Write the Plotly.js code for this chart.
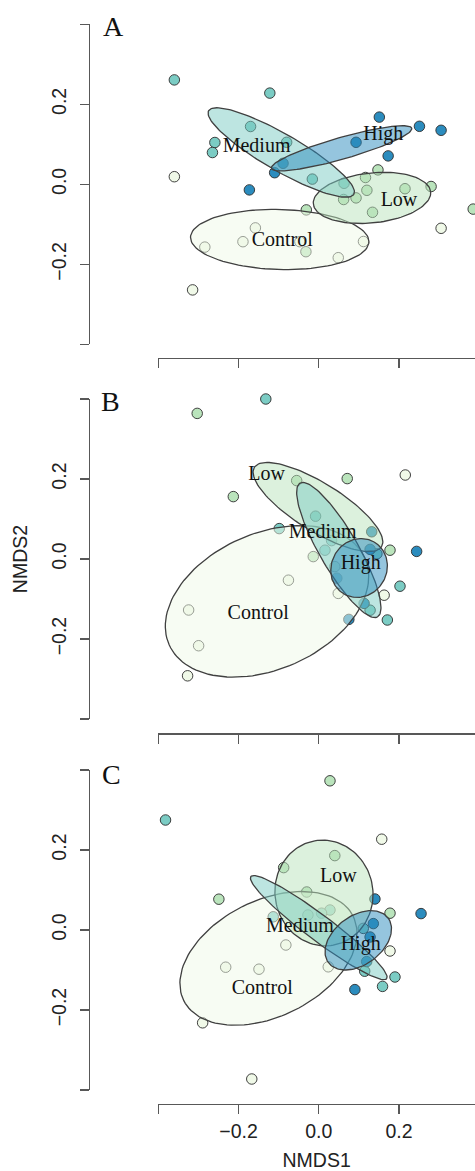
<!DOCTYPE html>
<html><head><meta charset="utf-8">
<script src="https://cdn.plot.ly/plotly-3.0.1.min.js"></script>
<style>html,body{margin:0;padding:0;background:#fff}#chart{width:475px;height:1171px}</style>
</head><body><div id="chart"></div>
<script>
// ---------- data ----------
const groups = ['Control', 'Low', 'Medium', 'High'];
const groupColors = ['#F0F9E8', '#BAE4BC', '#7BCCC4', '#2B8CBE'];
const panelLetters = ['A', 'B', 'C'];
const tickValues = [-0.4, -0.2, 0, 0.2, 0.4];
const tickLabels = ['', '\u22120.2', '0.0', '0.2', ''];

// Panel A points
const aControlX = [-0.360, -0.3145, -0.284, -0.158, -0.189, -0.047, 0.0486, 0.1115, 0.305];
const aControlY = [0.019, -0.264, -0.157, -0.109, -0.1435, -0.1435, -0.1835, -0.143, -0.110];
const aLowX = [0.1476, 0.1165, 0.120, 0.215, 0.280, 0.062, 0.093, 0.134, 0.385, -0.031, -0.032];
const aLowY = [0.036, 0.017, -0.015, -0.011, -0.0055, -0.038, -0.034, -0.070, -0.062, -0.064, -0.1685];
const aMediumX = [-0.360, -0.122, -0.170, -0.259, -0.265, -0.080, 0.063, -0.016];
const aMediumY = [0.261, 0.228, 0.1445, 0.1045, 0.0795, 0.105, 0.0025, 0.013];
const aHighX = [0.151, 0.251, 0.305, 0.093, 0.173, -0.089, -0.110, -0.173];
const aHighY = [0.168, 0.145, 0.135, 0.105, 0.071, 0.0525, 0.029, -0.014];

// Panel B points
const bControlX = [-0.4726, 0.2157, -0.0756, 0.163, -0.3244, -0.2995, -0.327, -0.1923, 0.0486];
const bControlY = [0.089, 0.21, -0.053, -0.0905, -0.1275, -0.2168, -0.292, -0.417, -0.086];
const bLowX = [-0.303, -0.213, 0.071, -0.055, 0.1776, -0.0137, 0.040];
const bLowY = [0.364, 0.156, 0.201, 0.196, 0.022, 0.006, -0.019];
const bMediumX = [-0.132, -0.008, -0.0985, 0.2025, 0.128, 0.171, 0.145, 0.032, 0.0155];
const bMediumY = [0.40, 0.107, 0.076, -0.068, -0.128, -0.1525, 0.013, 0.046, 0.022];
const bHighX = [0.132, 0.244, 0.128, 0.113, 0.075, 0.045];
const bHighY = [0.068, 0.019, 0.024, -0.111, -0.151, -0.048];

// Panel C points
const cControlX = [0.157, -0.531, -0.082, 0.1776, -0.232, -0.149, -0.2895, -0.167, 0.0237];
const cControlY = [0.227, 0.0275, -0.0375, -0.0525, -0.093, -0.098, -0.232, -0.3725, -0.092];
const cLowX = [0.028, 0.040, -0.0875, -0.249, 0.1776, -0.030, -0.027];
const cLowY = [0.373, 0.186, 0.156, 0.077, 0.042, 0.095, 0.0375];
const cMediumX = [-0.382, 0.1145, 0.190, 0.159, -0.1135, 0.028, 0.007, 0.111];
const cMediumY = [0.275, -0.103, -0.1175, -0.141, 0.033, 0.05, 0.042, 0.004];
const cHighX = [0.140, 0.255, 0.136, 0.128, 0.090, 0.1195];
const cHighY = [0.0775, 0.041, 0.016, -0.0175, -0.149, -0.079];

// Ellipses (order: Control, Low, Medium, High): centre, semi-axes, rotation (deg)
const aEllCX = [-0.0973, 0.1327, -0.0935, 0.057];
const aEllCY = [-0.138, -0.034, 0.0795, 0.090];
const aEllA = [0.2225, 0.147, 0.209, 0.182];
const aEllB = [0.075, 0.0625, 0.046, 0.027];
const aEllAng = [-1.5, 6, -30, 16];

const bEllCX = [-0.129, -0.002, 0.050, 0.1005];
const bEllCY = [-0.106, 0.13, 0.0225, -0.0225];
const bEllA = [0.267, 0.187, 0.193, 0.075];
const bEllB = [0.170, 0.06, 0.048, 0.069];
const bEllAng = [24, -32, -60, 60];

const cEllCX = [-0.1254, 0.013, 0.0, 0.0985];
const cEllCY = [-0.071, 0.0925, 0.006, -0.0258];
const cEllA = [0.236, 0.1325, 0.212, 0.093];
const cEllB = [0.145, 0.122, 0.032, 0.061];
const cEllAng = [26.6, 100, -37, 37];

// Group label positions (order: Control, Low, Medium, High)
const aLabelX = [-0.091, 0.2, -0.155, 0.161];
const aLabelY = [-0.141, -0.042, 0.094, 0.123];
const bLabelX = [-0.151, -0.13, 0.0097, 0.1045];
const bLabelY = [-0.1375, 0.21, 0.064, -0.0125];
const cLabelX = [-0.141, 0.0486, -0.047, 0.1045];
const cLabelY = [-0.148, 0.132, 0.008, -0.0375];

// ---------- assembly ----------
const panels = [
  {pts: [[aControlX, aControlY], [aLowX, aLowY], [aMediumX, aMediumY], [aHighX, aHighY]],
   ell: [aEllCX, aEllCY, aEllA, aEllB, aEllAng], lab: [aLabelX, aLabelY]},
  {pts: [[bControlX, bControlY], [bLowX, bLowY], [bMediumX, bMediumY], [bHighX, bHighY]],
   ell: [bEllCX, bEllCY, bEllA, bEllB, bEllAng], lab: [bLabelX, bLabelY]},
  {pts: [[cControlX, cControlY], [cLowX, cLowY], [cMediumX, cMediumY], [cHighX, cHighY]],
   ell: [cEllCX, cEllCY, cEllA, cEllB, cEllAng], lab: [cLabelX, cLabelY]}
];

function hexToRgba(hex, a) {
  const n = parseInt(hex.slice(1), 16);
  return 'rgba(' + ((n >> 16) & 255) + ',' + ((n >> 8) & 255) + ',' + (n & 255) + ',' + a + ')';
}

function ellipseOutline(cx, cy, a, b, angDeg) {
  const t = angDeg * Math.PI / 180, xs = [], ys = [];
  for (let i = 0; i <= 120; i++) {
    const u = 2 * Math.PI * i / 120;
    const ex = a * Math.cos(u), ey = b * Math.sin(u);
    xs.push(cx + ex * Math.cos(t) - ey * Math.sin(t));
    ys.push(cy + ex * Math.sin(t) + ey * Math.cos(t));
  }
  return [xs, ys];
}

const serif = 'Liberation Serif, Times New Roman, serif';
const sans = 'Liberation Sans, Arial, Helvetica, sans-serif';
const lineCol = '#585858';
const textCol = '#222222';

const traces = [];
panels.forEach((p, k) => {
  const xa = k === 0 ? 'x' : 'x' + (k + 1);
  const ya = k === 0 ? 'y' : 'y' + (k + 1);
  // points (under the ellipses)
  p.pts.forEach((xy, g) => {
    traces.push({
      type: 'scatter', mode: 'markers', x: xy[0], y: xy[1], xaxis: xa, yaxis: ya,
      name: groups[g], showlegend: false, cliponaxis: false, hoverinfo: 'skip',
      marker: {size: 10.5, color: groupColors[g], line: {color: 'rgba(45,45,45,0.9)', width: 1}}
    });
  });
  // ellipses
  groups.forEach((gname, g) => {
    const o = ellipseOutline(p.ell[0][g], p.ell[1][g], p.ell[2][g], p.ell[3][g], p.ell[4][g]);
    traces.push({
      type: 'scatter', mode: 'lines', x: o[0], y: o[1], xaxis: xa, yaxis: ya,
      fill: 'toself', fillcolor: hexToRgba(groupColors[g], 0.5),
      line: {color: '#404040', width: 1.3}, showlegend: false, hoverinfo: 'skip'
    });
  });
  // group labels
  traces.push({
    type: 'scatter', mode: 'text', x: p.lab[0], y: p.lab[1], text: groups,
    xaxis: xa, yaxis: ya, textposition: 'middle center', cliponaxis: false,
    textfont: {family: serif, size: 20, color: '#111111'}, showlegend: false, hoverinfo: 'skip'
  });
});

const xDomain = [158.3 / 475, 1];
const xRange = [-0.4, 0.3895];
const yDomains = [[1 - 344.3 / 1171, 1 - 24.3 / 1171], [1 - 719 / 1171, 1 - 399 / 1171], [1 - 1090 / 1171, 1 - 770 / 1171]];
const xPositions = [1 - 358 / 1171, 1 - 733.3 / 1171, 1 - 1104 / 1171];
const yPosition = 88.5 / 475;

function xAxis(k) {
  const ax = {
    domain: xDomain, range: xRange, anchor: 'free', position: xPositions[k],
    showline: true, linecolor: lineCol, linewidth: 1.3, showgrid: false, zeroline: false,
    ticks: 'outside', ticklen: 9, tickwidth: 1.3, tickcolor: lineCol,
    tickmode: 'array', tickvals: tickValues, ticktext: tickLabels,
    showticklabels: k === 2, tickfont: {family: sans, size: 19.5, color: textCol},
    fixedrange: true
  };
  if (k === 2) ax.title = {text: 'NMDS1', font: {family: sans, size: 19.5, color: textCol}, standoff: 13};
  return ax;
}
function yAxis(k) {
  const ax = {
    domain: yDomains[k], range: [-0.4, 0.4], anchor: 'free', position: yPosition,
    showline: true, linecolor: lineCol, linewidth: 1.3, showgrid: false, zeroline: false,
    ticks: 'outside', ticklen: 9, tickwidth: 1.3, tickcolor: lineCol,
    tickmode: 'array', tickvals: tickValues, ticktext: tickLabels, tickangle: -90,
    tickfont: {family: sans, size: 19.5, color: textCol}, ticklabelstandoff: 6,
    fixedrange: true
  };
  if (k === 1) ax.title = {text: 'NMDS2', font: {family: sans, size: 19.5, color: textCol}, standoff: 13};
  return ax;
}

const letterPos = [[113.3, 26.5], [110.8, 401.2], [111.7, 774.5]];
const layout = {
  width: 475, height: 1171, margin: {l: 0, r: 0, t: 0, b: 0},
  paper_bgcolor: '#ffffff', plot_bgcolor: 'rgba(0,0,0,0)', showlegend: false,
  xaxis: xAxis(0), xaxis2: xAxis(1), xaxis3: xAxis(2),
  yaxis: yAxis(0), yaxis2: yAxis(1), yaxis3: yAxis(2),
  annotations: panelLetters.map((L, k) => ({
    text: L, xref: 'paper', yref: 'paper', x: letterPos[k][0] / 475, y: 1 - letterPos[k][1] / 1171,
    xanchor: 'center', yanchor: 'middle', showarrow: false,
    font: {family: serif, size: 28, color: '#111111'}
  }))
};

Plotly.newPlot('chart', traces, layout, {staticPlot: true, displayModeBar: false});
</script></body></html>
